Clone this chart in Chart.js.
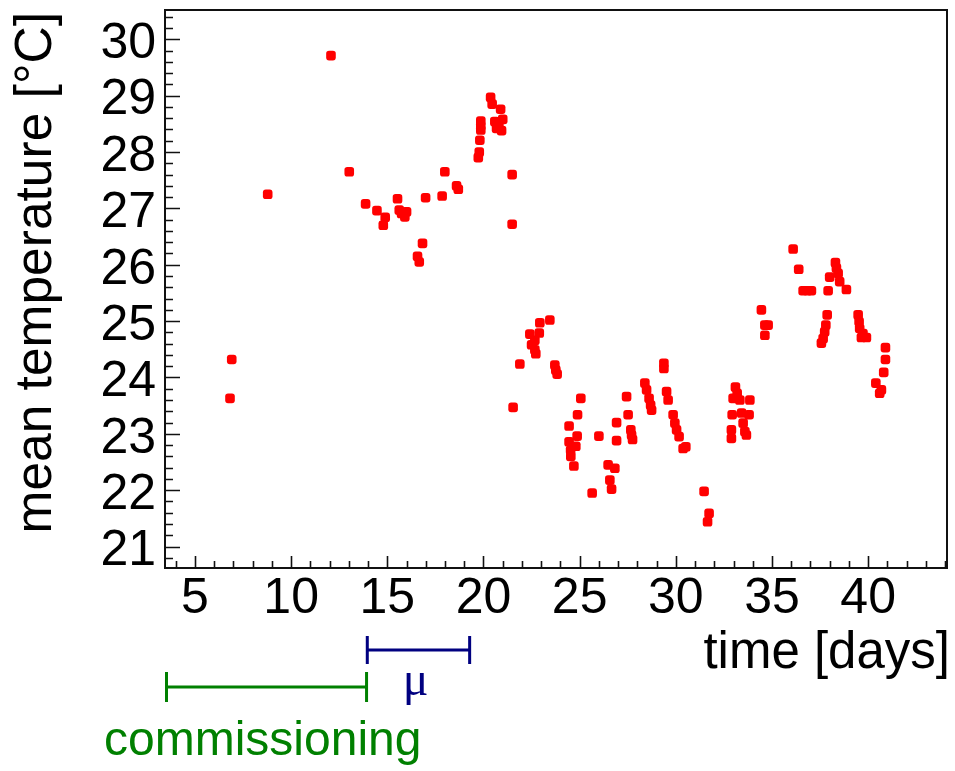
<!DOCTYPE html>
<html>
<head>
<meta charset="utf-8">
<script src="https://cdn.jsdelivr.net/npm/chart.js@4"></script>
<style>
html,body{margin:0;padding:0;background:#fff;}
#wrap{width:955px;height:771px;position:relative;}
</style>
</head>
<body>
<div id="wrap"><canvas id="c" width="955" height="771"></canvas></div>
<script>
// ---- data ----
const days = [
  6.91, 6.82, 8.78, 12.07, 13.02, 13.87, 14.46, 14.89, 14.79, 15.53,
  15.62, 15.74, 15.91, 16.00, 16.83, 16.57, 16.66, 16.99, 17.85, 17.99,
  18.60, 18.69, 19.73, 19.78, 19.81, 19.86, 19.86, 19.86, 20.37, 20.45,
  20.89, 20.59, 20.68, 21.00, 20.94, 20.80, 21.49, 21.49, 21.54, 21.89,
  22.41, 22.90, 22.67, 22.50, 22.67, 22.72, 22.93, 23.45, 23.71, 23.76,
  23.83, 25.06, 24.89, 24.45, 24.87, 24.80, 24.45, 24.53, 24.54, 24.70,
  25.65, 26.00, 26.48, 26.83, 26.57, 26.66, 26.92, 26.92, 27.44, 27.52,
  27.66, 27.70, 27.75, 28.39, 28.48, 28.61, 28.69, 28.74, 29.38, 29.38,
  29.52, 29.60, 29.86, 29.95, 30.04, 30.17, 30.38, 30.52, 31.47, 31.73,
  31.65, 33.10, 33.19, 32.98, 33.33, 33.85, 32.93, 33.42, 33.81, 33.50,
  33.59, 33.67, 32.89, 32.89, 34.45, 34.63, 34.80, 34.63, 36.10, 36.39,
  36.62, 36.85, 37.05, 37.92, 38.30, 38.35, 38.44, 38.00, 38.52, 38.87,
  37.87, 37.80, 37.74, 37.66, 37.57, 39.48, 39.53, 39.56, 39.73, 39.91,
  39.65, 40.90, 40.90, 40.81, 40.40, 40.60, 40.69
];
const temps = [
  24.32, 23.63, 27.25, 29.71, 27.65, 27.08, 26.96, 26.84, 26.70, 27.17,
  26.97, 26.91, 26.85, 26.94, 26.38, 26.15, 26.05, 27.19, 27.22, 27.65,
  27.40, 27.34, 27.90, 28.00, 28.21, 28.39, 28.46, 28.55, 28.97, 28.85,
  28.76, 28.54, 28.42, 28.58, 28.38, 28.48, 27.60, 26.72, 23.47, 24.24,
  24.77, 24.79, 24.66, 24.58, 24.49, 24.42, 24.97, 25.02, 24.22, 24.13,
  24.06, 23.63, 23.34, 23.14, 22.96, 22.78, 22.86, 22.71, 22.60, 22.43,
  21.95, 22.96, 22.45, 22.39, 22.18, 22.02, 23.20, 22.88, 23.66, 23.34,
  23.07, 22.98, 22.90, 23.90, 23.78, 23.63, 23.51, 23.42, 24.25, 24.16,
  23.75, 23.60, 23.34, 23.19, 23.07, 22.95, 22.74, 22.77, 21.98, 21.59,
  21.44, 23.83, 23.72, 23.63, 23.60, 23.60, 23.34, 23.37, 23.34, 23.19,
  23.04, 22.98, 23.07, 22.92, 25.20, 24.93, 24.93, 24.75, 26.28, 25.92,
  25.54, 25.54, 25.54, 25.54, 26.04, 25.94, 25.85, 25.78, 25.70, 25.56,
  25.11, 24.93, 24.81, 24.69, 24.61, 25.11, 24.99, 24.87, 24.78, 24.71,
  24.71, 24.53, 24.32, 24.09, 23.90, 23.72, 23.78
];
const xTickLabels = [5, 10, 15, 20, 25, 30, 35, 40];
const yTickLabels = [21, 22, 23, 24, 25, 26, 27, 28, 29, 30];
const xRange = [3.44, 44.1];
const yRange = [20.62, 30.52];
const commissioningDays = [3.44, 13.92];
const muDays = [13.88, 19.28];

const FONT = "'Liberation Sans', Arial, Helvetica, sans-serif";

const points = days.map((d, i) => ({x: d, y: temps[i]}));

const framePlugin = {
  id: 'frame',
  afterDraw(chart) {
    const {ctx, chartArea: a} = chart;
    const xs = chart.scales.x, ys = chart.scales.y;
    ctx.save();
    // frame
    ctx.strokeStyle = '#111';
    ctx.lineWidth = 2;
    ctx.strokeRect(a.left, a.top, a.right - a.left, a.bottom - a.top);
    // ticks
    ctx.lineWidth = 1.6;
    ctx.beginPath();
    for (let k = Math.ceil(yRange[0] * 5); k <= Math.floor(yRange[1] * 5); k++) {
      const py = Math.round(ys.getPixelForValue(k / 5)) + 0.5;
      const len = (k % 5 === 0) ? 15 : 8;
      ctx.moveTo(a.left, py); ctx.lineTo(a.left + len, py);
    }
    for (let k = Math.ceil(xRange[0]); k <= Math.floor(xRange[1]); k++) {
      const px = Math.round(xs.getPixelForValue(k)) + 0.5;
      const len = (k % 5 === 0) ? 12 : 7;
      ctx.moveTo(px, a.bottom); ctx.lineTo(px, a.bottom - len);
    }
    ctx.stroke();

    // axis titles
    ctx.fillStyle = '#000';
    ctx.font = '51px ' + FONT;
    ctx.textAlign = 'right';
    ctx.textBaseline = 'alphabetic';
    ctx.fillText('time [days]', 950, 668);

    ctx.save();
    ctx.translate(51, 12);
    ctx.rotate(-Math.PI / 2);
    ctx.textAlign = 'right';
    ctx.font = '51.5px ' + FONT;
    ctx.fillText('mean temperature [\u00B0C]', 0, 0);
    ctx.restore();

    // period bars
    const bar = (range, yc, half, color) => {
      const x0 = xs.getPixelForValue(range[0]);
      const x1 = xs.getPixelForValue(range[1]);
      ctx.strokeStyle = color;
      ctx.lineWidth = 3;
      ctx.beginPath();
      ctx.moveTo(x0, yc); ctx.lineTo(x1, yc);
      ctx.moveTo(x0 + 1.5, yc - half); ctx.lineTo(x0 + 1.5, yc + half);
      ctx.moveTo(x1, yc - half); ctx.lineTo(x1, yc + half);
      ctx.stroke();
      return (x0 + x1) / 2;
    };
    const muMid = bar(muDays, 650, 14, '#000080');
    bar(commissioningDays, 687, 15, '#008000');

    ctx.fillStyle = '#000080';
    ctx.font = '48px "Liberation Serif", "Times New Roman", serif';
    ctx.textAlign = 'center';
    ctx.fillText('\u03BC', muMid - 2, 695);

    ctx.fillStyle = '#008000';
    ctx.font = '48px ' + FONT;
    ctx.textAlign = 'left';
    ctx.fillText('commissioning', 104, 755);
    ctx.restore();
  }
};

new Chart(document.getElementById('c'), {
  type: 'scatter',
  data: {
    datasets: [{
      data: points,
      backgroundColor: '#ff0000',
      borderWidth: 0,
      pointStyle: 'rectRounded',
      pointRadius: 5.6,
      pointHoverRadius: 5.6
    }]
  },
  options: {
    responsive: false,
    animation: false,
    events: [],
    layout: {padding: {top: 10, right: 8, left: 0, bottom: 0}},
    plugins: {legend: {display: false}, tooltip: {enabled: false}},
    scales: {
      x: {
        type: 'linear',
        min: xRange[0], max: xRange[1],
        grid: {display: false, drawTicks: false},
        border: {display: false},
        afterBuildTicks: s => { s.ticks = xTickLabels.map(v => ({value: v})); },
        afterFit: s => { s.height = 203; s.paddingLeft = 0; s.paddingRight = 0; },
        ticks: {
          color: '#000',
          padding: 2,
          maxRotation: 0,
          autoSkip: false,
          font: {family: FONT, size: 50, lineHeight: 1.15},
          callback: v => String(v)
        }
      },
      y: {
        type: 'linear',
        min: yRange[0], max: yRange[1],
        grid: {display: false, drawTicks: false},
        border: {display: false},
        afterBuildTicks: s => { s.ticks = yTickLabels.map(v => ({value: v})); },
        afterFit: s => { s.width = 165; s.paddingTop = 0; s.paddingBottom = 0; },
        ticks: {
          color: '#000',
          padding: 9,
          autoSkip: false,
          font: {family: FONT, size: 50, lineHeight: '10px'},
          callback: v => ['', String(v)]
        }
      }
    }
  },
  plugins: [framePlugin]
});
</script>
</body>
</html>
